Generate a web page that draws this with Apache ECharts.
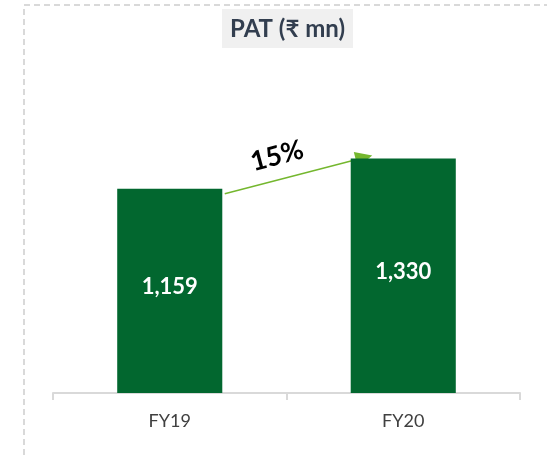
<!DOCTYPE html>
<html>
<head>
<meta charset="UTF-8">
<title>PAT</title>
<script src="https://cdn.jsdelivr.net/npm/echarts@6/dist/echarts.min.js"></script>
<style>
  html, body { margin: 0; padding: 0; background: #fff; }
  #chart { width: 547px; height: 459px; }
</style>
</head>
<body>
<div id="chart"></div>
<script>
// data
const years = ['FY19', 'FY20'];
const pat = [1159, 1330];
const growthLabel = '15%';

const FONT = 'Lato, "Noto Sans", sans-serif';
const chart = echarts.init(document.getElementById('chart'));

chart.setOption({
  animation: false,
  title: {
    text: 'PAT (₹ mn)',
    left: 222,
    top: 9,
    padding: [8, 8, 7, 8],
    backgroundColor: '#f0f0f0',
    textStyle: { fontFamily: FONT, fontSize: 24, fontWeight: 'bold', color: '#323e4f' }
  },
  grid: { left: 53, right: 27, top: 111, bottom: 66 },
  xAxis: {
    type: 'category',
    data: years,
    axisLine: { lineStyle: { color: '#d9d9d9', width: 2 } },
    axisTick: { show: true, length: 7, lineStyle: { color: '#d9d9d9', width: 2 } },
    axisLabel: { margin: 19, fontFamily: FONT, fontSize: 18, color: '#404040' }
  },
  yAxis: { type: 'value', min: 0, max: 1600, show: false, splitLine: { show: false } },
  series: [{
    type: 'bar',
    data: pat,
    barWidth: '45%',
    itemStyle: { color: '#02672f' },
    label: {
      show: true,
      position: 'inside',
      offset: [0, -4],
      formatter: p => p.value.toLocaleString('en-US'),
      fontFamily: FONT,
      fontSize: 22,
      fontWeight: 'bold',
      color: '#ffffff'
    }
  }]
});

// growth arrow between the bars
const p0 = chart.convertToPixel({ seriesIndex: 0 }, [0, pat[0]]);
const p1 = chart.convertToPixel({ seriesIndex: 0 }, [1, pat[1]]);
const half = 52;
const x1 = p0[0] + half + 3, y1 = p0[1] + 5;
const x2 = p1[0] - 31, y2 = p1[1] - 3;
const ang = Math.atan2(y2 - y1, x2 - x1);
const ah = 17, aw = 8;
const bx = x2 - ah * Math.cos(ang), by = y2 - ah * Math.sin(ang);
const nx = -Math.sin(ang), ny = Math.cos(ang);

chart.setOption({
  graphic: [
    {
      type: 'rect', silent: true, z: -1,
      shape: { x: 24, y: 5, width: 700, height: 600 },
      style: { fill: 'none', stroke: '#d9d9d9', lineWidth: 2, lineDash: [6, 4] }
    },
    {
      type: 'line', silent: true,
      shape: { x1: x1, y1: y1, x2: bx, y2: by },
      style: { stroke: '#74b72e', lineWidth: 1.5 }
    },
    {
      type: 'polygon', silent: true,
      shape: { points: [[x2, y2], [bx + nx * aw, by + ny * aw], [bx - nx * aw, by - ny * aw]] },
      style: { fill: '#74b72e' }
    },
    {
      type: 'text', silent: true,
      x: 277, y: 156, rotation: 15 * Math.PI / 180,
      style: {
        text: growthLabel, fontFamily: FONT, fontSize: 27, fontWeight: 'bold',
        fill: '#000000', align: 'center', verticalAlign: 'middle'
      }
    }
  ]
});

window.addEventListener('resize', () => chart.resize());
</script>
</body>
</html>
